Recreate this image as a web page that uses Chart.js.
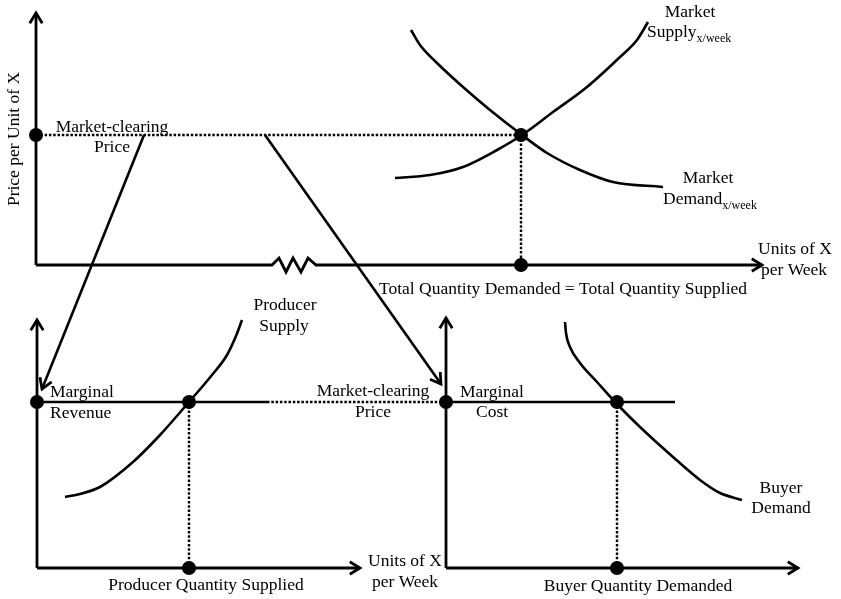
<!DOCTYPE html>
<html><head><meta charset="utf-8">
<script src="https://cdn.jsdelivr.net/npm/chart.js@4"></script>
<style>html,body{margin:0;padding:0;background:#fff;}canvas{display:block;}</style>
</head><body>
<canvas id="c" width="841" height="599"></canvas>
<script>
// ---- Diagram data (diagram units: x to the right, y downward) ----
// Top panel: market
const topAxisPrice    = [{x:36,y:265},{x:36,y:13}];
const topAxisQuantity = [{x:36,y:265},{x:272,y:265},{x:279,y:258},{x:286,y:272},{x:293,y:258},{x:301,y:272},{x:308,y:258},{x:316,y:265},{x:762,y:265}];
const marketSupply = [{x:395,y:178},{x:430,y:175},{x:463,y:167},{x:497,y:150},{x:522,y:135},{x:553,y:112},{x:587,y:87},{x:620,y:57},{x:637,y:40},{x:648,y:22}];
const marketDemand = [{x:411,y:30},{x:420,y:45},{x:437,y:63},{x:463,y:87},{x:490,y:110},{x:522,y:135},{x:547,y:153},{x:580,y:170},{x:613,y:182},{x:663,y:187}];
const clearingPriceLine = [{x:36,y:135},{x:521,y:135}];
const totalQuantityLine = [{x:521,y:135},{x:521,y:265}];
const topDots = [{x:36,y:135},{x:521,y:135},{x:521,y:265}];

// Bottom-left panel: producer
const prodAxisPrice    = [{x:37,y:568},{x:37,y:320}];
const prodAxisQuantity = [{x:37,y:568},{x:360,y:568}];
const marginalRevenue  = [{x:37,y:402},{x:267,y:402}];
const priceLink        = [{x:267,y:402},{x:446,y:402}];
const producerSupply   = [{x:65,y:497},{x:80,y:494},{x:100,y:487},{x:133,y:462},{x:160,y:435},{x:189,y:402},{x:212,y:375},{x:227,y:355},{x:236,y:336},{x:242,y:320}];
const prodQuantityLine = [{x:189,y:402},{x:189,y:568}];
const prodDots = [{x:37,y:402},{x:189,y:402},{x:189,y:568}];

// Bottom-right panel: buyer
const buyerAxisPrice    = [{x:446,y:568},{x:446,y:318}];
const buyerAxisQuantity = [{x:446,y:568},{x:798,y:568}];
const marginalCost      = [{x:446,y:402},{x:675,y:402}];
const buyerDemand       = [{x:565,y:322},{x:566,y:333},{x:570,y:347},{x:580,y:363},{x:597,y:382},{x:616,y:403},{x:640,y:427},{x:673,y:457},{x:700,y:480},{x:720,y:493},{x:742,y:500}];
const buyerQuantityLine = [{x:617,y:402},{x:617,y:568}];
const buyerDots = [{x:446,y:402},{x:617,y:402},{x:617,y:568}];

// Linking arrows (start, tip)
const priceArrows = [
  [{x:144,y:135},{x:42,y:389}],
  [{x:265,y:135},{x:441,y:384}]
];

// Text labels
const labelTexts = [
  {t:'Market-clearing', x:112, y:132},
  {t:'Price', x:112, y:152},
  {t:'Market', x:690, y:17},
  {t:'Market', x:708, y:183},
  {t:'Units of X', x:795, y:254},
  {t:'per Week', x:794, y:275},
  {t:'Total Quantity Demanded = Total Quantity Supplied', x:563, y:294},
  {t:'Producer', x:285, y:310},
  {t:'Supply', x:284, y:331},
  {t:'Marginal', x:50, y:397, a:'left'},
  {t:'Revenue', x:50, y:418, a:'left'},
  {t:'Market-clearing', x:373, y:396},
  {t:'Price', x:373, y:417},
  {t:'Marginal', x:460, y:397, a:'left'},
  {t:'Cost', x:492, y:417},
  {t:'Buyer', x:781, y:493},
  {t:'Demand', x:781, y:513},
  {t:'Units of X', x:405, y:566},
  {t:'per Week', x:405, y:587},
  {t:'Producer Quantity Supplied', x:206, y:590},
  {t:'Buyer Quantity Demanded', x:638, y:591}
];
const subscriptLabels = [
  {t:'Supply', sub:'x/week', x:647, y:37},
  {t:'Demand', sub:'x/week', x:663, y:204}
];
const yAxisTitle = {t:'Price per Unit of X', x:14, y:139};

// ---- Chart ----
const FONT = '"Liberation Serif", "Times New Roman", serif';
function line(data, opts) {
  return Object.assign({data, showLine:true, borderColor:'#000', borderWidth:2.6, pointRadius:0, fill:false, tension:0, borderCapStyle:'butt'}, opts||{});
}
function dots(data) {
  return {data, showLine:false, pointRadius:7, pointBackgroundColor:'#000', pointBorderColor:'#000', pointBorderWidth:0};
}
const dotted = {borderDash:[2.5,1.8], borderWidth:2.4};
const smooth = {cubicInterpolationMode:'monotone'};

const datasets = [
  dots(topDots), dots(prodDots), dots(buyerDots),
  line(topAxisPrice, {arrow:true, borderWidth:2.8}),
  line(topAxisQuantity, {arrow:true, borderWidth:2.8, borderJoinStyle:'miter'}),
  line(marketSupply, smooth),
  line(marketDemand, smooth),
  line(clearingPriceLine, dotted),
  line(totalQuantityLine, dotted),
  line(prodAxisPrice, {arrow:true, borderWidth:2.8}),
  line(prodAxisQuantity, {arrow:true, borderWidth:2.8}),
  line(marginalRevenue),
  line(priceLink, dotted),
  line(producerSupply, smooth),
  line(prodQuantityLine, dotted),
  line(buyerAxisPrice, {arrow:true, borderWidth:2.8}),
  line(buyerAxisQuantity, {arrow:true, borderWidth:2.8}),
  line(marginalCost),
  line(buyerDemand, smooth),
  line(buyerQuantityLine, dotted),
  line(priceArrows[0], {arrow:true}),
  line(priceArrows[1], {arrow:true})
];

function arrowHead(ctx, fx, fy, tx, ty, len, half) {
  const ang = Math.atan2(ty - fy, tx - fx);
  ctx.beginPath();
  ctx.moveTo(tx - len*Math.cos(ang - half), ty - len*Math.sin(ang - half));
  ctx.lineTo(tx, ty);
  ctx.lineTo(tx - len*Math.cos(ang + half), ty - len*Math.sin(ang + half));
  ctx.stroke();
}

const decor = {
  id:'decor',
  afterDatasetsDraw(chart) {
    const ctx = chart.ctx, xs = chart.scales.x, ys = chart.scales.y;
    const px = v => xs.getPixelForValue(v), py = v => ys.getPixelForValue(v);
    ctx.save();
    ctx.strokeStyle = '#000'; ctx.lineWidth = 2.8; ctx.lineJoin = 'miter'; ctx.lineCap = 'butt';
    chart.data.datasets.forEach(ds => {
      if (!ds.arrow) return;
      const n = ds.data.length, a = ds.data[n-2], b = ds.data[n-1];
      arrowHead(ctx, px(a.x), py(a.y), px(b.x), py(b.y), 12, 0.55);
    });
    ctx.fillStyle = '#000';
    ctx.font = '17.5px ' + FONT;
    ctx.textBaseline = 'alphabetic';
    labelTexts.forEach(l => {
      ctx.textAlign = l.a || 'center';
      ctx.fillText(l.t, px(l.x), py(l.y));
    });
    subscriptLabels.forEach(l => {
      ctx.textAlign = 'left';
      ctx.font = '17.5px ' + FONT;
      ctx.fillText(l.t, px(l.x), py(l.y));
      const w = ctx.measureText(l.t).width;
      ctx.font = '12px ' + FONT;
      ctx.fillText(l.sub, px(l.x) + w, py(l.y) + 5);
    });
    ctx.font = '17.5px ' + FONT;
    ctx.translate(px(yAxisTitle.x), py(yAxisTitle.y));
    ctx.rotate(-Math.PI/2);
    ctx.textAlign = 'center'; ctx.textBaseline = 'middle';
    ctx.fillText(yAxisTitle.t, 0, 0);
    ctx.restore();
  }
};

new Chart(document.getElementById('c'), {
  type:'scatter',
  data:{datasets},
  options:{
    responsive:false, animation:false, devicePixelRatio:1,
    layout:{padding:0, autoPadding:false},
    plugins:{legend:{display:false}, tooltip:{enabled:false}},
    events:[],
    scales:{
      x:{type:'linear', min:0, max:841, display:false},
      y:{type:'linear', min:0, max:599, reverse:true, display:false}
    }
  },
  plugins:[decor]
});
</script>
</body></html>
